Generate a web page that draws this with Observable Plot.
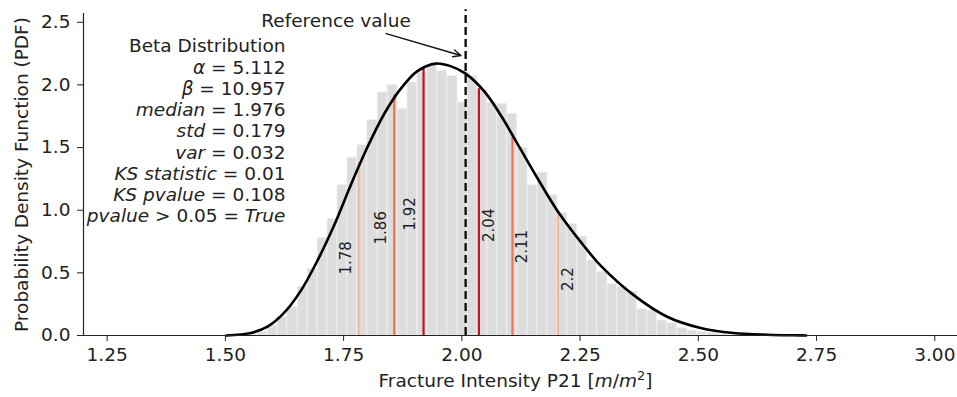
<!DOCTYPE html>
<html>
<head>
<meta charset="utf-8">
<script src="https://cdn.jsdelivr.net/npm/d3@7"></script>
<script src="https://cdn.jsdelivr.net/npm/@observablehq/plot@0.6"></script>
<style>
  html, body { margin: 0; padding: 0; background: #fff; }
  #chart { width: 957px; height: 397px; }
</style>
</head>
<body>
<div id="chart"></div>
<script>
// ---------- data ----------
const binEdges = [1.526, 1.547, 1.568, 1.589, 1.610, 1.631, 1.653, 1.674, 1.695, 1.716,
  1.737, 1.758, 1.779, 1.800, 1.822, 1.843, 1.864, 1.885, 1.906, 1.927,
  1.948, 1.969, 1.991, 2.012, 2.033, 2.054, 2.075, 2.096, 2.117, 2.139,
  2.160, 2.181, 2.202, 2.223, 2.244, 2.265, 2.286, 2.308, 2.329, 2.350,
  2.371, 2.392, 2.413, 2.434, 2.455, 2.477, 2.498, 2.519, 2.540, 2.561];
const binHeights = [0.00, 0.01, 0.03, 0.08, 0.15, 0.23, 0.39, 0.53, 0.78, 0.93,
  1.20, 1.42, 1.52, 1.72, 1.94, 2.00, 1.81, 2.02, 2.10, 2.15,
  2.11, 2.07, 1.86, 2.07, 1.96, 1.86, 1.85, 1.77, 1.50, 1.20,
  1.30, 1.12, 0.98, 0.89, 0.79, 0.60, 0.51, 0.41, 0.39, 0.35,
  0.21, 0.20, 0.12, 0.10, 0.06, 0.04, 0.03, 0.02, 0.01];

const curveX = [1.502, 1.554, 1.589, 1.624, 1.660, 1.695, 1.730, 1.765, 1.800, 1.836,
  1.871, 1.906, 1.945, 1.976, 2.008, 2.047, 2.082, 2.107, 2.156, 2.203,
  2.257, 2.293, 2.364, 2.434, 2.505, 2.574, 2.646, 2.716, 2.728];
const curveY = [0.00, 0.02, 0.07, 0.18, 0.36, 0.60, 0.88, 1.20, 1.50, 1.77,
  1.97, 2.11, 2.17, 2.15, 2.09, 1.95, 1.76, 1.60, 1.28, 0.99,
  0.72, 0.56, 0.32, 0.15, 0.06, 0.02, 0.006, 0.001, 0.0];

const pctPositions = [1.782, 1.857, 1.919, 2.036, 2.107, 2.203];
const pctLabels = ["1.78", "1.86", "1.92", "2.04", "2.11", "2.2"];
const pctHeights = [1.38, 1.92, 2.14, 1.97, 1.60, 0.99];
const pctColors = ["#fcb49a", "#f8704e", "#c9111b", "#c9111b", "#f8704e", "#fcb49a"];
const pctLabelY = [0.62, 0.86, 0.97, 0.88, 0.71, 0.45];

const referenceValue = 2.008;

const statTitle = "Beta Distribution";
const statNames = ["α", "β", "median", "std", "var", "KS statistic", "KS pvalue"];
const statValues = ["5.112", "10.957", "1.976", "0.179", "0.032", "0.01", "0.108"];
const statTest = ["pvalue", " > 0.05 = ", "True"];

const xTicks = [1.25, 1.50, 1.75, 2.00, 2.25, 2.50, 2.75, 3.00];
const yTicks = [0.0, 0.5, 1.0, 1.5, 2.0, 2.5];
const xLabel = "Fracture Intensity P21 [m/m2]";
const yLabel = "Probability Density Function (PDF)";
const refLabel = "Reference value";

// ---------- derived tables ----------
const bins = binHeights.map((h, i) => ({x1: binEdges[i], x2: binEdges[i + 1], h}));
const curve = curveX.map((x, i) => ({x, y: curveY[i]}));
const pcts = pctPositions.map((v, i) => ({v, label: pctLabels[i], h: pctHeights[i], c: pctColors[i], ly: pctLabelY[i], left: i < 3}));
const statLines = [statTitle, ...statNames.map((n, i) => `${n} = ${statValues[i]}`), statTest.join("")];

const FONT = "DejaVu Sans";
const FS = 18.5;
const chart = Plot.plot({
  width: 957,
  height: 397,
  marginLeft: 83,
  marginRight: 0,
  marginTop: 13,
  marginBottom: 62,
  style: {fontFamily: FONT, fontSize: FS + "px", color: "#222", background: "#fff"},
  x: {domain: [1.2, 3.048]},
  y: {domain: [0, 2.57]},
  marks: [
    Plot.rectY(bins, {x1: "x1", x2: "x2", y: "h", fill: "#dddddd", stroke: "#f2f2f2", strokeWidth: 0.8}),
    Plot.ruleX(pcts, {x: "v", y1: 0, y2: "h", stroke: "c", strokeWidth: 2.2}),
    Plot.text(pcts.filter(d => d.left), {x: "v", y: "ly", text: "label", rotate: -90, dx: -13, fill: "#222", fontSize: 15}),
    Plot.text(pcts.filter(d => !d.left), {x: "v", y: "ly", text: "label", rotate: -90, dx: 10, fill: "#222", fontSize: 15}),
    Plot.ruleX([referenceValue], {y1: 0, y2: 2.6, stroke: "#111", strokeWidth: 2.4, strokeDasharray: "8,4"}),
    Plot.line(curve, {x: "x", y: "y", curve: "catmull-rom", stroke: "#000", strokeWidth: 2.6}),
    Plot.arrow([{x1: 1.84, y1: 2.41, x2: 1.998, y2: 2.235}], {x1: "x1", y1: "y1", x2: "x2", y2: "y2", stroke: "#111", strokeWidth: 1.4, headLength: 9, headAngle: 50}),
    Plot.text([refLabel], {x: 1.734, y: 2.51, text: d => d, fill: "#222", fontSize: FS}),
    Plot.text([statLines.join("\n")], {x: 1.627, y: 1.636, text: d => d, textAnchor: "end", lineAnchor: "middle", lineHeight: 21.25 / FS, fill: "#222", fontSize: FS}),
    Plot.axisX({ticks: xTicks, tickFormat: d3.format(".2f"), tickSize: 6, tickPadding: 6, label: null, stroke: "#222", fontSize: FS}),
    Plot.axisY({ticks: yTicks, tickFormat: d3.format(".1f"), tickSize: 6, tickPadding: 7, label: null, stroke: "#222", fontSize: FS}),
    Plot.ruleY([0], {stroke: "#222", strokeWidth: 1.2}),
    Plot.ruleX([1.2], {stroke: "#222", strokeWidth: 1.2}),
    Plot.text([xLabel], {frameAnchor: "bottom", dx: -5, dy: 51, text: d => d, fill: "#222", fontSize: FS}),
    Plot.text([yLabel], {frameAnchor: "left", dx: -61, rotate: -90, textAnchor: "middle", text: d => d, fill: "#222", fontSize: FS})
  ]
});
document.getElementById("chart").appendChild(chart);

// ---------- mixed-style (mathtext-like) text ----------
const NS = "http://www.w3.org/2000/svg";
function seg(parent, str, italic, sup) {
  const t = document.createElementNS(NS, "tspan");
  t.textContent = str;
  if (italic) t.setAttribute("font-style", "italic");
  if (sup) { t.setAttribute("baseline-shift", "super"); t.setAttribute("font-size", "13"); }
  parent.appendChild(t);
}
chart.querySelectorAll("text").forEach(el => {
  if (el.textContent === xLabel) {
    while (el.firstChild) el.removeChild(el.firstChild);
    seg(el, "Fracture Intensity P21 [", false);
    seg(el, "m", true);
    seg(el, "/", false);
    seg(el, "m", true);
    seg(el, "2", false, true);
    seg(el, "]", false);
  }
});
chart.querySelectorAll("tspan").forEach(ts => {
  const i = statLines.indexOf(ts.textContent);
  if (i >= 1 && i <= statNames.length) {
    ts.textContent = "";
    seg(ts, statNames[i - 1], true);
    seg(ts, " = " + statValues[i - 1], false);
  } else if (i === statLines.length - 1) {
    ts.textContent = "";
    seg(ts, statTest[0], true);
    seg(ts, statTest[1], false);
    seg(ts, statTest[2], true);
  }
});
</script>
</body>
</html>
